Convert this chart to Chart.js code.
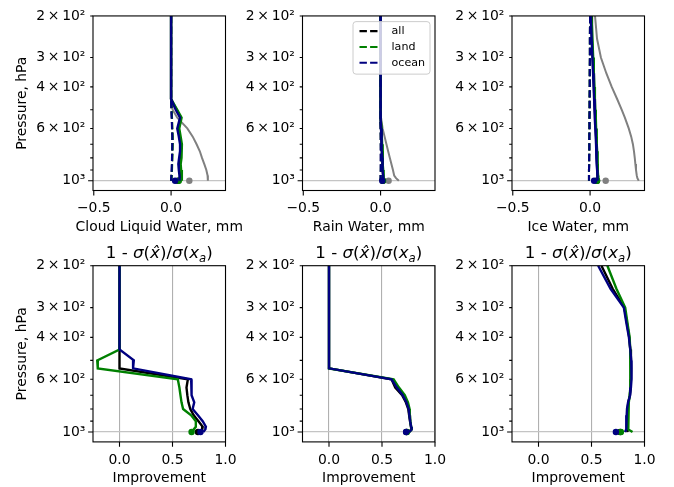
<!DOCTYPE html>
<html>
<head>
<meta charset="utf-8">
<script src="https://cdn.jsdelivr.net/npm/chart.js@4.4.1/dist/chart.umd.min.js"></script>
<style>
  html, body { margin: 0; padding: 0; background: #fff; }
  #fig { position: relative; width: 674px; height: 487px; background: #fff; }
  #fig canvas { position: absolute; left: 0; top: 0; }
</style>
</head>
<body>
<div id="fig">
  <canvas id="c0" width="674" height="487"></canvas>
  <canvas id="c1" width="674" height="487"></canvas>
  <canvas id="c2" width="674" height="487"></canvas>
  <canvas id="c3" width="674" height="487"></canvas>
  <canvas id="c4" width="674" height="487"></canvas>
  <canvas id="c5" width="674" height="487"></canvas>
</div>
<script>
// pressure levels shared by every profile, hPa
const PRES = [200, 250, 300, 350, 400, 450, 500, 540, 600, 650, 700, 750, 800, 850, 900, 950, 975, 1000];

// top row: water content profiles, mm (truth in grey, solid = retrieved, dashed = prior)
const clwTruth = [0, 0, 0, 0, 0, 0, 0.01, 0.04, 0.105, 0.14, 0.165, 0.186, 0.2, 0.215, 0.228, 0.236, 0.238, 0.238];
const clwAll = [0, 0, 0, 0, 0, 0, 0.035, 0.063, 0.047, 0.056, 0.064, 0.064, 0.058, 0.054, 0.057, 0.061, 0.062, 0.061];
const clwLand = [0, 0, 0, 0, 0, 0, 0.04, 0.068, 0.053, 0.062, 0.07, 0.07, 0.065, 0.062, 0.065, 0.069, 0.07, 0.07];
const clwOcean = [0, 0, 0, 0, 0, 0, 0.03, 0.058, 0.04, 0.05, 0.058, 0.058, 0.052, 0.047, 0.05, 0.054, 0.055, 0.054];
const clwAllPrior = [0, 0, 0, 0, 0, 0, 0.003, 0.005, 0.007, 0.009, 0.009, 0.008, 0.007, 0.006, 0.005, 0.003, 0.002, 0.001];
const clwLandPrior = [0, 0, 0, 0, 0, 0, 0.004, 0.006, 0.008, 0.01, 0.01, 0.009, 0.008, 0.007, 0.006, 0.004, 0.003, 0.002];
const clwOceanPrior = [0, 0, 0, 0, 0, 0, 0.002, 0.004, 0.006, 0.008, 0.008, 0.007, 0.006, 0.005, 0.004, 0.002, 0.001, 0];
const clwSurf = [0.045, 0.05, 0.026]; // all, land, ocean
const clwSurfTruth = 0.118;

const rainTruth = [0, 0, 0, 0, 0, 0, 0, 0.003, 0.013, 0.026, 0.038, 0.049, 0.06, 0.07, 0.08, 0.088, 0.1, 0.118];
const rainAll = [0, 0, 0, 0, 0, 0, 0, 0, 0.004, 0.006, 0.008, 0.01, 0.012, 0.013, 0.015, 0.017, 0.018, 0.018];
const rainLand = [0, 0, 0, 0, 0, 0, 0, 0, 0.006, 0.008, 0.01, 0.012, 0.014, 0.015, 0.017, 0.019, 0.02, 0.02];
const rainOcean = [0, 0, 0, 0, 0, 0, 0, 0, 0.003, 0.005, 0.007, 0.009, 0.011, 0.012, 0.014, 0.016, 0.017, 0.017];
const rainAllPrior = [0, 0, 0, 0, 0, 0, 0, 0, 0.001, 0.001, 0.002, 0.002, 0.002, 0.002, 0.002, 0.001, 0.001, 0];
const rainLandPrior = [0, 0, 0, 0, 0, 0, 0, 0, 0.001, 0.002, 0.002, 0.003, 0.003, 0.003, 0.002, 0.002, 0.001, 0];
const rainOceanPrior = [0, 0, 0, 0, 0, 0, 0, 0, 0, 0.001, 0.001, 0.001, 0.001, 0.001, 0.001, 0, 0, 0];
const rainSurf = [0.014, 0.016, 0.011];
const rainSurfTruth = 0.052;

const iceTruth = [0.032, 0.045, 0.07, 0.105, 0.14, 0.175, 0.205, 0.225, 0.25, 0.266, 0.277, 0.284, 0.289, 0.293, 0.297, 0.302, 0.306, 0.315];
const iceAll = [0.006, 0.012, 0.017, 0.021, 0.025, 0.028, 0.031, 0.034, 0.036, 0.039, 0.041, 0.043, 0.044, 0.046, 0.048, 0.049, 0.05, 0.052];
const iceLand = [0.009, 0.015, 0.02, 0.024, 0.028, 0.031, 0.034, 0.037, 0.039, 0.042, 0.044, 0.046, 0.047, 0.049, 0.051, 0.052, 0.053, 0.055];
const iceOcean = [0.004, 0.01, 0.015, 0.0195, 0.023, 0.026, 0.029, 0.0315, 0.034, 0.0366, 0.0387, 0.0406, 0.0424, 0.044, 0.0456, 0.047, 0.048, 0.05];
const iceAllPrior = [0, -0.001, -0.001, -0.002, -0.002, -0.003, -0.003, -0.004, -0.004, -0.005, -0.005, -0.005, -0.006, -0.006, -0.007, -0.007, -0.007, -0.007];
const iceLandPrior = [0, -0.001, -0.001, -0.002, -0.002, -0.003, -0.003, -0.004, -0.004, -0.005, -0.005, -0.005, -0.006, -0.006, -0.007, -0.007, -0.007, -0.007];
const iceOceanPrior = [0, -0.001, -0.001, -0.002, -0.002, -0.003, -0.003, -0.004, -0.004, -0.005, -0.005, -0.005, -0.006, -0.006, -0.007, -0.007, -0.007, -0.007];
const iceSurf = [0.045, 0.045, 0.026];
const iceSurfTruth = 0.101;

// bottom row: improvement 1 - sigma(xhat)/sigma(xa)
const impClwAll = [0, 0, 0, 0, 0, 0, 0, 0, 0.645, 0.632, 0.64, 0.65, 0.668, 0.7, 0.745, 0.785, 0.78, 0.755];
const impClwLand = [0, 0, 0, 0, 0, 0, -0.21, -0.205, 0.55, 0.565, 0.575, 0.585, 0.6, 0.676, 0.72, 0.72, 0.7, 0.69];
const impClwOcean = [0, 0, 0, 0, 0, 0, 0.135, 0.128, 0.676, 0.678, 0.682, 0.705, 0.69, 0.74, 0.785, 0.815, 0.81, 0.79];
const impClwSurf = [0.74, 0.68, 0.764];

const impRainAll = [0, 0, 0, 0, 0, 0, 0, 0, 0.59, 0.625, 0.69, 0.725, 0.748, 0.756, 0.764, 0.773, 0.778, 0.752];
const impRainLand = [0, 0, 0, 0, 0, 0, 0, 0, 0.61, 0.66, 0.715, 0.745, 0.76, 0.762, 0.768, 0.775, 0.78, 0.76];
const impRainOcean = [0, 0, 0, 0, 0, 0, 0, 0, 0.59, 0.64, 0.695, 0.73, 0.752, 0.758, 0.766, 0.775, 0.78, 0.755];
const impRainSurf = [0.73, 0.735, 0.727];

const impIceAll = [0.594, 0.7, 0.81, 0.835, 0.856, 0.866, 0.872, 0.874, 0.872, 0.868, 0.862, 0.848, 0.84, 0.838, 0.836, 0.834, 0.835, 0.84];
const impIceLand = [0.65, 0.735, 0.818, 0.84, 0.86, 0.865, 0.868, 0.868, 0.866, 0.864, 0.86, 0.852, 0.848, 0.846, 0.846, 0.846, 0.85, 0.887];
const impIceOcean = [0.563, 0.68, 0.805, 0.83, 0.853, 0.866, 0.875, 0.878, 0.877, 0.872, 0.865, 0.845, 0.835, 0.832, 0.83, 0.828, 0.826, 0.815];
const impIceSurf = [0.77, 0.777, 0.73];

const Y_TICKS = [200, 300, 400, 500, 600, 700, 800, 900, 1000];
const Y_LABELS = ['2\u2009\u00d7\u200910\u00b2', '3\u2009\u00d7\u200910\u00b2', '4\u2009\u00d7\u200910\u00b2', '', '6\u2009\u00d7\u200910\u00b2', '', '', '', '10\u00b3'];
const X_TICKS_TOP = [-0.5, 0];
const X_LABELS_TOP = ['\u22120.5', '0.0'];
const X_TICKS_BOT = [0, 0.5, 1];
const X_LABELS_BOT = ['0.0', '0.5', '1.0'];
const REGIONS = ['all', 'land', 'ocean'];

const COLORS = ['#000000', '#008000', '#000080'];
const TRUTH_COLOR = '#808080';
const FONT = '"DejaVu Sans", sans-serif';
const FS = 13.9;

// layout in figure pixels
const COL_LEFT = [93, 302.5, 512];
const PLOT_W = 132.5;
const ROW_TOP = [14.3, 265.7];
const PLOT_H = 176.2;
const Y_AXIS_W = 93;
const X_AXIS_H = 44;

function lineSet(vals, color, width, dash) {
  return {
    data: PRES.map((p, i) => ({ x: vals[i], y: p })),
    showLine: true, borderColor: color, backgroundColor: color,
    borderWidth: width, borderDash: dash || [], pointRadius: 0, tension: 0
  };
}
function dotSet(v, color) {
  return {
    data: [{ x: v, y: 1000 }], showLine: false,
    backgroundColor: color, borderColor: color, borderWidth: 0, pointRadius: 3.2
  };
}

const TITLE_PARTS = [['1 - ', 'n'], ['\u03c3', 'i'], ['(', 'n'], ['x\u0302', 'i'], [')/', 'n'], ['\u03c3', 'i'], ['(', 'n'], ['x', 'i'], ['a', 's'], [')', 'n']];

function drawTitle(ctx, ca) {
  const fonts = { n: '16.7px ' + FONT, i: 'italic 16.7px ' + FONT, s: 'italic 11.7px ' + FONT };
  ctx.save();
  let total = 0;
  TITLE_PARTS.forEach(([t, f]) => { ctx.font = fonts[f]; total += ctx.measureText(t).width; });
  let x = (ca.left + ca.right) / 2 - total / 2;
  const base = ca.top - 7.8;
  ctx.fillStyle = '#000';
  ctx.textBaseline = 'alphabetic';
  ctx.textAlign = 'left';
  TITLE_PARTS.forEach(([t, f]) => {
    ctx.font = fonts[f];
    ctx.fillText(t, x, f === 's' ? base + 3.6 : base);
    x += ctx.measureText(t).width;
  });
  ctx.restore();
}

function drawLegend(ctx, ca) {
  const w = 77, h = 52.5;
  const x0 = ca.right - 5 - w, y0 = ca.top + 5.7;
  ctx.save();
  ctx.beginPath();
  ctx.roundRect(x0, y0, w, h, 3);
  ctx.fillStyle = 'rgba(255,255,255,0.8)';
  ctx.fill();
  ctx.strokeStyle = '#cccccc';
  ctx.lineWidth = 1;
  ctx.stroke();
  ctx.font = '11.1px ' + FONT;
  ctx.textBaseline = 'middle';
  ctx.textAlign = 'left';
  REGIONS.forEach((r, i) => {
    const y = y0 + 9.5 + i * 15.8;
    ctx.beginPath();
    ctx.setLineDash([7.4, 3.2]);
    ctx.moveTo(x0 + 6.5, y);
    ctx.lineTo(x0 + 25.5, y);
    ctx.strokeStyle = COLORS[i];
    ctx.lineWidth = 2.1;
    ctx.stroke();
    ctx.setLineDash([]);
    ctx.fillStyle = '#000';
    ctx.fillText(r, x0 + 38.5, y);
  });
  ctx.restore();
}

const deco = {
  id: 'deco',
  afterDatasetsDraw(chart, args, opts) {
    const { ctx, chartArea: ca, scales } = chart;
    ctx.save();
    ctx.strokeStyle = '#000';
    ctx.lineWidth = 1.1;
    ctx.strokeRect(ca.left, ca.top, ca.right - ca.left, ca.bottom - ca.top);
    ctx.beginPath();
    Y_TICKS.forEach(v => {
      const py = scales.y.getPixelForValue(v);
      const len = v === 1000 ? 4.9 : 2.8;
      ctx.moveTo(ca.left - len, py);
      ctx.lineTo(ca.left, py);
    });
    (opts.row === 0 ? X_TICKS_TOP : X_TICKS_BOT).forEach(v => {
      const px = scales.x.getPixelForValue(v);
      ctx.moveTo(px, ca.bottom);
      ctx.lineTo(px, ca.bottom + 4.9);
    });
    ctx.stroke();
    // x axis label (drawn here so it is not squeezed to the axis width)
    ctx.font = FS + 'px ' + FONT;
    ctx.fillStyle = '#000';
    ctx.textAlign = 'center';
    ctx.textBaseline = 'alphabetic';
    ctx.fillText(opts.xlabel, (ca.left + ca.right) / 2, ca.bottom + 40.4);
    ctx.restore();
    if (opts.legend) drawLegend(ctx, ca);
    if (opts.row === 1) drawTitle(ctx, ca);
  }
};

const PANELS = [
  { col: 0, row: 0, xlabel: 'Cloud Liquid Water, mm', truth: clwTruth, truthDot: clwSurfTruth,
    solid: [clwAll, clwLand, clwOcean], dashed: [clwAllPrior, clwLandPrior, clwOceanPrior], dots: clwSurf },
  { col: 1, row: 0, xlabel: 'Rain Water, mm', truth: rainTruth, truthDot: rainSurfTruth,
    solid: [rainAll, rainLand, rainOcean], dashed: [rainAllPrior, rainLandPrior, rainOceanPrior], dots: rainSurf, legend: true },
  { col: 2, row: 0, xlabel: 'Ice Water, mm', truth: iceTruth, truthDot: iceSurfTruth,
    solid: [iceAll, iceLand, iceOcean], dashed: [iceAllPrior, iceLandPrior, iceOceanPrior], dots: iceSurf },
  { col: 0, row: 1, xlabel: 'Improvement', solid: [impClwAll, impClwLand, impClwOcean], dots: impClwSurf },
  { col: 1, row: 1, xlabel: 'Improvement', solid: [impRainAll, impRainLand, impRainOcean], dots: impRainSurf },
  { col: 2, row: 1, xlabel: 'Improvement', solid: [impIceAll, impIceLand, impIceOcean], dots: impIceSurf }
];

PANELS.forEach((pn, k) => {
  const datasets = []; // painter's order, bottom first
  if (pn.truth) {
    datasets.push(lineSet(pn.truth, TRUTH_COLOR, 2));
    datasets.push(dotSet(pn.truthDot, TRUTH_COLOR));
  }
  REGIONS.forEach((r, i) => {
    datasets.push(lineSet(pn.solid[i], COLORS[i], 2.4));
    if (pn.dashed) datasets.push(lineSet(pn.dashed[i], COLORS[i], 2.1, [7.4, 3.2]));
    datasets.push(dotSet(pn.dots[i], COLORS[i]));
  });
  datasets.reverse(); // Chart.js paints index 0 last

  const top = pn.row === 0;
  const xTicks = top ? X_TICKS_TOP : X_TICKS_BOT;
  const xLabels = top ? X_LABELS_TOP : X_LABELS_BOT;
  const left = COL_LEFT[pn.col], ptop = ROW_TOP[pn.row];

  new Chart(document.getElementById('c' + k), {
    type: 'scatter',
    data: { datasets },
    plugins: [deco],
    options: {
      responsive: false,
      animation: false,
      devicePixelRatio: 1,
      layout: { padding: {
        left: left - Y_AXIS_W, right: 674 - left - PLOT_W,
        top: ptop, bottom: 487 - ptop - PLOT_H - X_AXIS_H
      } },
      plugins: {
        legend: { display: false },
        tooltip: { enabled: false },
        deco: { row: pn.row, legend: !!pn.legend, xlabel: pn.xlabel }
      },
      scales: {
        x: {
          type: 'linear',
          min: top ? -0.505 : -0.25,
          max: top ? 0.352 : 1.0,
          afterFit: s => { s.height = X_AXIS_H; },
          afterBuildTicks: s => { s.ticks = xTicks.map(v => ({ value: v })); },
          ticks: {
            callback: v => xLabels[xTicks.indexOf(v)],
            autoSkip: false, maxRotation: 0, padding: 9.7,
            color: '#000', font: { family: FONT, size: FS }
          },
          grid: {
            drawTicks: false, drawOnChartArea: !top,
            color: '#b0b0b0', lineWidth: 1.1
          },
          border: { display: false }
        },
        y: {
          type: 'logarithmic',
          reverse: true,
          min: 200,
          max: 1100,
          afterFit: s => { s.width = Y_AXIS_W; },
          afterBuildTicks: s => { s.ticks = Y_TICKS.map(v => ({ value: v })); },
          ticks: {
            callback: v => Y_LABELS[Y_TICKS.indexOf(v)] ?? '',
            autoSkip: false, padding: 7.6,
            color: '#000', font: { family: FONT, size: FS }
          },
          grid: {
            drawTicks: false,
            color: c => (c.tick && c.tick.value === 1000) ? '#c4c4c4' : 'rgba(0,0,0,0)',
            lineWidth: 1.3
          },
          border: { display: false },
          title: {
            display: pn.col === 0, text: 'Pressure, hPa', color: '#000',
            padding: { top: 14.3, bottom: 0 }, font: { family: FONT, size: FS }
          }
        }
      }
    }
  });
});
</script>
</body>
</html>
